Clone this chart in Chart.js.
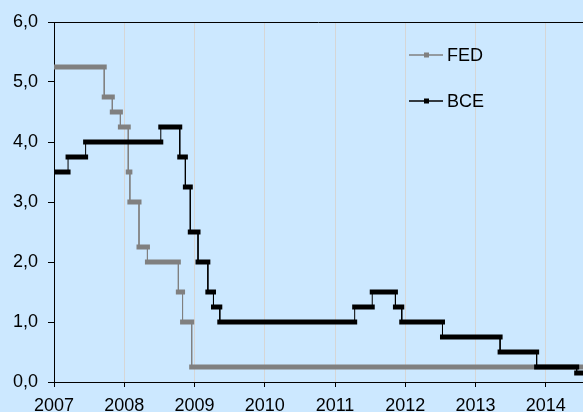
<!DOCTYPE html>
<html>
<head>
<meta charset="utf-8">
<title>FED / BCE</title>
<script src="https://cdn.jsdelivr.net/npm/chart.js@4.4.1/dist/chart.umd.min.js"></script>
<style>
    html, body { margin: 0; padding: 0; background: #CCE8FF; }
    #wrap { width: 583px; height: 412px; }
</style>
</head>
<body>
<div id="wrap"><canvas id="tipos" width="583" height="412"></canvas></div>
<script>
    // Datos: fecha de cada cambio (año decimal) y tipo vigente desde esa fecha
    var fedFechas = [2007.0, 2007.715, 2007.83, 2007.945, 2008.057, 2008.08, 2008.21, 2008.33, 2008.77, 2008.83, 2008.96];
    var fedTipos  = [5.25, 4.75, 4.50, 4.25, 3.50, 3.00, 2.25, 2.00, 1.50, 1.00, 0.25];

    var bceFechas = [2007.0, 2007.2, 2007.45, 2008.52, 2008.79, 2008.87, 2008.94, 2009.05, 2009.19, 2009.27, 2009.36,
                     2011.28, 2011.53, 2011.86, 2011.95, 2012.53, 2013.35, 2013.87, 2014.44];
    var bceTipos  = [3.50, 3.75, 4.00, 4.25, 3.75, 3.25, 2.50, 2.00, 1.50, 1.25, 1.00,
                     1.25, 1.50, 1.25, 1.00, 0.75, 0.50, 0.25, 0.15];

    var anios = [2007, 2008, 2009, 2010, 2011, 2012, 2013, 2014];
    var ejeY  = [0, 1, 2, 3, 4, 5, 6];

    var xMin = 2007, xMax = 2014.53;
    var fuente = '"Liberation Sans", Arial, sans-serif';

    // Convierte los cambios de tipo en escalones (inicio y fin de cada periodo)
    function escalones(fechas, tipos) {
        var puntos = [];
        for (var i = 0; i < fechas.length; i++) {
            var fin = (i + 1 < fechas.length) ? fechas[i + 1] : xMax;
            puntos.push({x: fechas[i], y: tipos[i]});
            puntos.push({x: fin, y: tipos[i]});
        }
        return puntos;
    }

    // Tramos horizontales gruesos, saltos verticales finos
    function grosor(ancho) {
        return function (ctx) {
            return ctx.p0.parsed.y === ctx.p1.parsed.y ? ancho : 1;
        };
    }

    // Fondo, borde superior y leyenda dentro del área del gráfico
    var extras = {
        id: 'extras',
        beforeDraw: function (chart) {
            var c = chart.ctx;
            c.save();
            c.fillStyle = '#CCE8FF';
            c.fillRect(0, 0, chart.width, chart.height);
            c.restore();
        },
        afterDatasetsDraw: function (chart) {
            var c = chart.ctx, a = chart.chartArea;
            c.save();
            c.strokeStyle = '#000';
            c.lineWidth = 1;
            c.beginPath();
            c.moveTo(a.left, a.top + 0.5);
            c.lineTo(a.right, a.top + 0.5);
            c.stroke();

            var items = [
                {texto: 'FED', color: '#808080', y: 55},
                {texto: 'BCE', color: '#000000', y: 101}
            ];
            c.font = '18px ' + fuente;
            c.textBaseline = 'middle';
            items.forEach(function (it) {
                c.strokeStyle = it.color;
                c.lineWidth = 1.5;
                c.beginPath();
                c.moveTo(409, it.y);
                c.lineTo(443, it.y);
                c.stroke();
                c.fillStyle = it.color;
                c.fillRect(424, it.y - 2.5, 5, 5);
                c.fillStyle = '#000';
                c.fillText(it.texto, 447, it.y + 1);
            });
            c.restore();
        }
    };

    var ctx = document.getElementById('tipos').getContext('2d');
    var grafico = new Chart(ctx, {
        type: 'line',
        data: {
            datasets: [{
                label: 'BCE',
                data: escalones(bceFechas, bceTipos),
                borderColor: '#000000',
                pointRadius: 0,
                borderCapStyle: 'square',
                segment: { borderWidth: grosor(5) }
            }, {
                label: 'FED',
                data: escalones(fedFechas, fedTipos),
                borderColor: '#808080',
                pointRadius: 0,
                borderCapStyle: 'square',
                segment: { borderWidth: grosor(5) }
            }]
        },
        options: {
            responsive: false,
            animation: false,
            layout: { padding: { top: 22, right: 0, left: 0, bottom: 0 } },
            plugins: {
                legend: { display: false },
                tooltip: { enabled: false }
            },
            scales: {
                x: {
                    type: 'linear',
                    min: xMin,
                    max: xMax,
                    afterFit: function (s) { s.height = 30; },
                    afterBuildTicks: function (s) {
                        s.ticks = anios.map(function (v) { return {value: v}; });
                    },
                    ticks: {
                        padding: 8,
                        color: '#000',
                        font: { family: fuente, size: 18 },
                        callback: function (v) { return String(v); }
                    },
                    grid: { color: '#D6D6D6', tickColor: '#000', tickLength: 5, lineWidth: 1 },
                    border: { color: '#000', width: 1 }
                },
                y: {
                    min: 0,
                    max: 6,
                    afterFit: function (s) { s.width = 54; },
                    afterBuildTicks: function (s) {
                        s.ticks = ejeY.map(function (v) { return {value: v}; });
                    },
                    ticks: {
                        padding: 10,
                        color: '#000',
                        font: { family: fuente, size: 18 },
                        callback: function (v) { return v.toFixed(1).replace('.', ','); }
                    },
                    grid: { drawOnChartArea: false, tickColor: '#000', tickLength: 6 },
                    border: { color: '#000', width: 1 }
                }
            }
        },
        plugins: [extras]
    });
</script>
</body>
</html>
